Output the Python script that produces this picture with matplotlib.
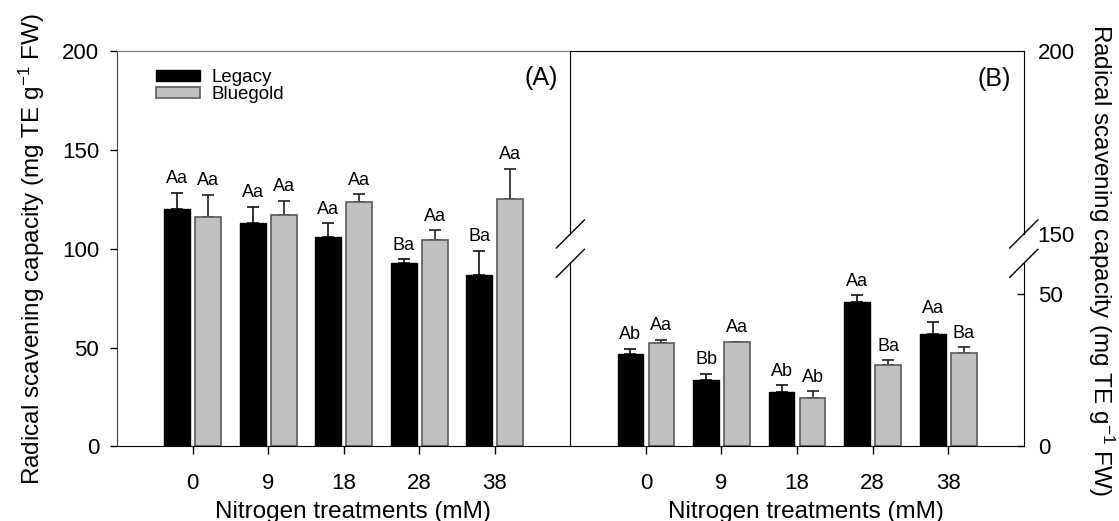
import matplotlib
matplotlib.use('Agg')
import matplotlib.pyplot as plt
import numpy as np

plt.rcParams['font.family'] = ['Liberation Sans', 'DejaVu Sans']
plt.rcParams['mathtext.fontset'] = 'custom'
plt.rcParams['mathtext.rm'] = 'Liberation Sans'
plt.rcParams['mathtext.it'] = 'Liberation Sans:italic'

# data
treatments = ['0', '9', '18', '28', '38']

legacy_a = [120.3, 113.2, 106.2, 93.0, 86.7]
legacy_a_err = [8.1, 8.1, 6.6, 1.7, 12.4]
bluegold_a = [116.0, 117.0, 123.6, 104.3, 125.2]
bluegold_a_err = [11.4, 7.4, 4.0, 5.1, 15.3]
letters_a_legacy = ['Aa', 'Aa', 'Aa', 'Ba', 'Ba']
letters_a_bluegold = ['Aa', 'Aa', 'Aa', 'Aa', 'Aa']

legacy_b = [30.2, 21.7, 17.9, 47.3, 37.0]
legacy_b_err = [1.8, 2.1, 2.1, 2.3, 3.7]
bluegold_b = [34.0, 34.1, 16.0, 26.6, 30.7]
bluegold_b_err = [1.0, 0.2, 2.1, 1.6, 1.8]
letters_b_legacy = ['Ab', 'Bb', 'Ab', 'Aa', 'Aa']
letters_b_bluegold = ['Aa', 'Aa', 'Ab', 'Ba', 'Ba']

ylabel = 'Radical scavening capacity (mg TE g$^{-1}$ FW)'
xlabel = 'Nitrogen treatments (mM)'

black = '#000000'
grey = '#c0c0c0'
grey_edge = '#5a5a5a'
width = 0.34
off = 0.205
tick_fs = 16
label_fs = 17.5
letter_fs = 13


def draw_bars(ax, leg, leg_err, blue, blue_err, let_leg, let_blue):
    x = np.arange(len(treatments))
    ax.bar(x - off, leg, width, color=black, edgecolor=black, linewidth=1.0,
           label='Legacy', zorder=2)
    ax.bar(x + off, blue, width, color=grey, edgecolor=grey_edge, linewidth=1.2,
           label='Bluegold', zorder=2)
    ax.errorbar(x - off, leg, yerr=[np.zeros(len(x)), leg_err], fmt='none',
                ecolor='#111111', elinewidth=1.2, capsize=4.2, capthick=1.2, zorder=1)
    ax.errorbar(x + off, blue, yerr=[np.zeros(len(x)), blue_err], fmt='none',
                ecolor='#222222', elinewidth=1.2, capsize=4.2, capthick=1.2, zorder=1)
    for i in range(len(x)):
        ax.annotate(let_leg[i], (x[i] - off, leg[i] + leg_err[i]),
                    xytext=(0, 4), textcoords='offset points',
                    ha='center', va='bottom', fontsize=letter_fs)
        ax.annotate(let_blue[i], (x[i] + off, blue[i] + blue_err[i]),
                    xytext=(0, 4), textcoords='offset points',
                    ha='center', va='bottom', fontsize=letter_fs)


fig = plt.figure(figsize=(11.19, 5.21), dpi=100)

# panel A
ax_a = fig.add_axes([0.1048, 0.143, 0.4048, 0.759])
draw_bars(ax_a, legacy_a, legacy_a_err, bluegold_a, bluegold_a_err,
          letters_a_legacy, letters_a_bluegold)
ax_a.set_xlim(-1, 5)
ax_a.set_ylim(0, 200)
ax_a.set_yticks([0, 50, 100, 150, 200])
ax_a.set_xticks(np.arange(len(treatments)))
ax_a.set_xticklabels(treatments)
ax_a.spines['right'].set_visible(False)
ax_a.spines['top'].set_color('#707070')
ax_a.spines['left'].set_color('#404040')
ax_a.tick_params(axis='y', direction='out', length=5, width=1, pad=8, labelsize=tick_fs)
ax_a.tick_params(axis='x', direction='out', length=6, width=1, pad=13, labelsize=tick_fs)
ax_a.set_xlabel(xlabel, fontsize=label_fs, labelpad=5, x=0.52)
ax_a.text(0.9735, 0.933, '(A)', transform=ax_a.transAxes, ha='right', va='center',
          fontsize=18)
ax_a.legend(loc='upper left', bbox_to_anchor=(0.085, 0.955), frameon=False,
            fontsize=13.5, handlelength=2.35, handleheight=0.55,
            handletextpad=0.6, labelspacing=0.0, borderpad=0, borderaxespad=0)

# panel B, broken y axis
ax_b = fig.add_axes([0.5097, 0.143, 0.4052, 0.3516])
ax_bt = fig.add_axes([0.5097, 0.5509, 0.4052, 0.3512])
draw_bars(ax_b, legacy_b, legacy_b_err, bluegold_b, bluegold_b_err,
          letters_b_legacy, letters_b_bluegold)
ax_b.set_xlim(-1, 5)
ax_b.set_ylim(0, 60)
ax_b.set_yticks([0, 50])
ax_b.set_xticks(np.arange(len(treatments)))
ax_b.set_xticklabels(treatments)
ax_b.spines['top'].set_visible(False)
ax_b.yaxis.tick_right()
ax_b.tick_params(axis='y', direction='in', length=5, width=1, pad=10, labelsize=tick_fs)
ax_b.tick_params(axis='x', direction='out', length=6, width=1, pad=13, labelsize=tick_fs)
ax_b.set_xlabel(xlabel, fontsize=label_fs, labelpad=5, x=0.52)

ax_bt.set_xlim(-1, 5)
ax_bt.set_ylim(150, 200)
ax_bt.set_yticks([150, 200])
ax_bt.set_xticks([])
ax_bt.spines['bottom'].set_visible(False)
ax_bt.yaxis.tick_right()
ax_bt.tick_params(axis='y', length=0, pad=10, labelsize=tick_fs)
ax_bt.text(0.972, 0.847, '(B)', transform=ax_bt.transAxes, ha='right', va='center',
           fontsize=18)

# break marks
dx = 14 / 453.0
dy_t = 14 / 183.0
dy_b = 14 / 183.2
for xs in (0, 1):
    ax_bt.plot([xs - dx, xs + dx], [-dy_t, dy_t], transform=ax_bt.transAxes,
               color='black', linewidth=1, clip_on=False)
    ax_b.plot([xs - dx, xs + dx], [1 - dy_b, 1 + dy_b], transform=ax_b.transAxes,
              color='black', linewidth=1, clip_on=False)

fig.text(32 / 1119, 1 - 248.5 / 521, ylabel, rotation=90, ha='center', va='center',
         fontsize=label_fs)
fig.text(1101 / 1119, 1 - 260 / 521, ylabel, rotation=-90, ha='center', va='center',
         fontsize=label_fs)

fig.savefig('out.png', dpi=100)
